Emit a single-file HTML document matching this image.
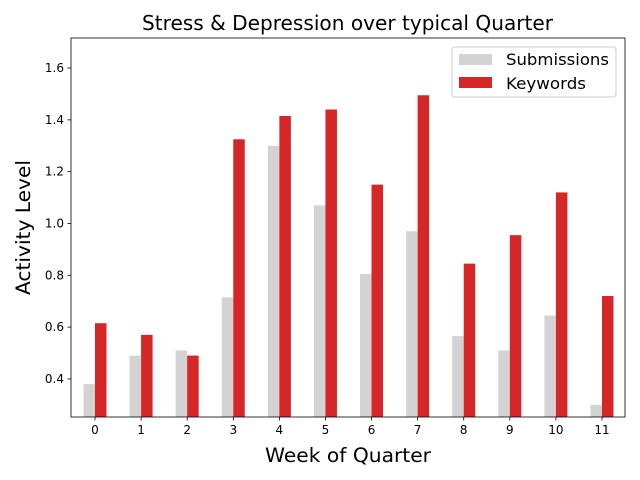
<!DOCTYPE html>
<html><head><meta charset="utf-8"><style>
body{margin:0;background:#fff;}
svg{display:block;font-family:"DejaVu Sans","Liberation Sans",sans-serif;}
</style></head><body>
<svg id="chart" width="640" height="480"></svg>
<script>
const categories=["0","1","2","3","4","5","6","7","8","9","10","11"];
const submissions=[0.38,0.49,0.51,0.715,1.30,1.07,0.805,0.97,0.565,0.51,0.645,0.30];
const keywords=[0.615,0.57,0.49,1.325,1.415,1.44,1.15,1.495,0.845,0.955,1.12,0.72];
const yTicks=[0.4,0.6,0.8,1.0,1.2,1.4,1.6];

const NS="http://www.w3.org/2000/svg";
const svg=document.getElementById("chart");
const L=71,R=625,T=38,B=417;
const yMin=0.253,yMax=1.716;
function y(v){return B-(v-yMin)/(yMax-yMin)*(B-T);}
function x(i){return 95+i*46.09;}
const bw=11.5;
function el(tag,attrs,text){const e=document.createElementNS(NS,tag);for(const k in attrs)e.setAttribute(k,attrs[k]);if(text!==undefined)e.textContent=text;svg.appendChild(e);return e;}

categories.forEach((c,i)=>{
  const g=el("rect",{x:x(i)-bw,y:y(submissions[i]),width:bw,height:B-y(submissions[i]),fill:"#d3d3d3"});
  
  
  const r=el("rect",{x:x(i),y:y(keywords[i]),width:bw,height:B-y(keywords[i]),fill:"#d62728"});
  
  
  el("line",{x1:x(i),x2:x(i),y1:B,y2:B+3.5,stroke:"#000","stroke-width":0.8});
  const t=el("text",{x:x(i),y:B+17,"text-anchor":"middle","font-size":12},c);
  
  
});
yTicks.forEach(v=>{
  el("line",{x1:L-3.5,x2:L,y1:y(v),y2:y(v),stroke:"#000","stroke-width":0.8});
  const t=el("text",{x:L-7,y:y(v)+4,"text-anchor":"end","font-size":12},v.toFixed(1));
  
  
});
el("rect",{x:L,y:T,width:R-L,height:B-T,fill:"none",stroke:"#000","stroke-width":0.8});
</script>
<div style="position:absolute;left:0;top:0;width:640px;height:480px;pointer-events:none">
<svg width="640" height="480" style="position:absolute;left:0;top:0;font-family:'DejaVu Sans','Liberation Sans',sans-serif">
<text x="142" y="30" font-size="20" textLength="411" lengthAdjust="spacingAndGlyphs">Stress &amp; Depression over typical Quarter</text>
<text x="265" y="462" font-size="19.5" textLength="166" lengthAdjust="spacingAndGlyphs">Week of Quarter</text>
<text x="30" y="295" font-size="19.5" textLength="135" lengthAdjust="spacingAndGlyphs" transform="rotate(-90 30 295)">Activity Level</text>
<g>
<rect x="452" y="47" width="164" height="50" rx="3" fill="#fff" fill-opacity="0.8" stroke="#ccc"/>
<rect x="459" y="54" width="33" height="11" fill="#d3d3d3"/>
<text x="506" y="65" font-size="16" textLength="103" lengthAdjust="spacingAndGlyphs">Submissions</text>
<rect x="459" y="77" width="33" height="11" fill="#d62728"/>
<text x="506" y="89" font-size="16" textLength="80" lengthAdjust="spacingAndGlyphs">Keywords</text>
</g>
</svg></div>
</body></html>
